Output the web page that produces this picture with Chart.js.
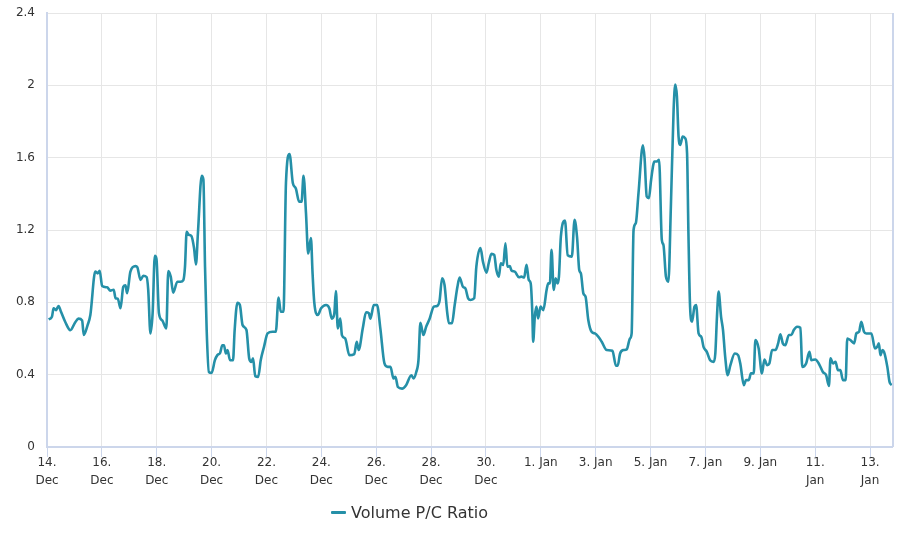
<!DOCTYPE html>
<html>
<head>
<meta charset="utf-8">
<script src="https://cdn.jsdelivr.net/npm/chart.js@4/dist/chart.umd.min.js"></script>
<style>
  html, body { margin: 0; padding: 0; background: #ffffff; }
  #wrap { position: relative; width: 900px; height: 534px; }
  #legend { position: absolute; left: 331px; top: 502px; height: 20px; display: flex; align-items: center;
            font-family: 'DejaVu Sans', sans-serif; font-size: 16px; color: #333; }
  #legend .sym { width: 15px; height: 3px; background: #2590a8; margin-right: 5px; border-radius: 1px; }
</style>
</head>
<body>
<div id="wrap">
  <canvas id="c" width="900" height="534"></canvas>
  <div id="legend"><span class="sym"></span><span>Volume P/C Ratio</span></div>
</div>
<script>
// Days since 14 Dec 00:00
const days = [0.06,0.18,0.24,0.33,0.42,0.51,0.67,0.85,1.03,1.15,1.28,1.34,1.48,1.58,1.76,1.85,1.92,2.01,2.19,2.31,2.43,2.50,2.58,2.68,2.78,2.86,2.92,3.04,3.23,3.29,3.41,3.51,3.63,3.69,3.77,3.85,3.93,3.99,4.08,4.20,4.35,4.42,4.51,4.60,4.75,4.87,4.97,5.03,5.09,5.17,5.26,5.36,5.43,5.50,5.64,5.70,5.76,5.82,5.90,6.00,6.12,6.21,6.31,6.39,6.45,6.52,6.58,6.67,6.78,6.84,6.94,7.03,7.13,7.27,7.37,7.45,7.51,7.59,7.70,7.79,7.91,8.04,8.22,8.34,8.44,8.52,8.62,8.71,8.84,8.96,9.07,9.19,9.28,9.35,9.44,9.52,9.62,9.68,9.74,9.87,9.99,10.17,10.29,10.38,10.47,10.53,10.60,10.69,10.75,10.87,11.02,11.20,11.29,11.36,11.51,11.63,11.73,11.79,11.91,12.03,12.15,12.30,12.42,12.52,12.63,12.70,12.79,12.94,13.09,13.28,13.36,13.46,13.54,13.61,13.72,13.82,13.94,14.10,14.22,14.31,14.40,14.49,14.59,14.65,14.76,14.86,14.96,15.04,15.16,15.25,15.35,15.44,15.57,15.65,15.80,15.89,16.02,16.10,16.20,16.30,16.38,16.47,16.54,16.63,16.71,16.78,16.87,16.93,17.05,17.20,17.29,17.39,17.48,17.56,17.63,17.69,17.72,17.78,17.84,17.90,17.99,18.09,18.21,18.27,18.33,18.39,18.47,18.54,18.61,18.66,18.73,18.88,18.98,19.13,19.23,19.32,19.40,19.46,19.55,19.63,19.73,19.85,19.97,20.10,20.22,20.40,20.61,20.74,20.80,20.89,21.01,21.13,21.25,21.31,21.38,21.46,21.56,21.72,21.78,21.86,21.94,22.02,22.14,22.23,22.31,22.41,22.47,22.56,22.65,22.74,22.84,22.90,22.96,23.02,23.08,23.17,23.26,23.33,23.38,23.44,23.51,23.60,23.66,23.75,23.85,23.93,24.05,24.17,24.30,24.36,24.42,24.48,24.57,24.64,24.72,24.81,24.91,25.07,25.19,25.27,25.40,25.48,25.58,25.66,25.76,25.82,25.94,26.06,26.15,26.25,26.33,26.43,26.55,26.65,26.73,26.82,26.91,27.04,27.13,27.22,27.34,27.46,27.53,27.67,27.79,27.86,28.01,28.13,28.28,28.40,28.50,28.56,28.65,28.74,28.83,28.92,29.01,29.11,29.17,29.29,29.42,29.50,29.60,29.68,29.78,29.86,29.96,30.05,30.18,30.26,30.32,30.38,30.45,30.51,30.63,30.71,30.79];

const ratio = [0.706,0.72,0.767,0.757,0.78,0.748,0.69,0.646,0.69,0.71,0.70,0.62,0.674,0.73,0.97,0.96,0.975,0.89,0.883,0.865,0.87,0.822,0.82,0.767,0.886,0.894,0.85,0.97,1.0,0.995,0.924,0.947,0.94,0.868,0.628,0.74,1.057,1.04,0.74,0.70,0.656,0.973,0.942,0.853,0.914,0.914,0.923,0.997,1.19,1.173,1.168,1.10,1.01,1.18,1.50,1.48,0.997,0.647,0.415,0.41,0.48,0.508,0.52,0.563,0.563,0.517,0.536,0.48,0.48,0.647,0.798,0.785,0.674,0.647,0.49,0.471,0.49,0.392,0.388,0.48,0.554,0.628,0.637,0.637,0.826,0.748,0.748,1.46,1.62,1.46,1.43,1.357,1.357,1.50,1.293,1.07,1.155,0.96,0.803,0.73,0.767,0.785,0.767,0.71,0.735,0.863,0.656,0.71,0.619,0.60,0.508,0.514,0.582,0.536,0.656,0.745,0.74,0.71,0.785,0.785,0.656,0.462,0.443,0.443,0.379,0.388,0.332,0.323,0.342,0.397,0.379,0.415,0.48,0.687,0.619,0.665,0.706,0.776,0.78,0.81,0.933,0.896,0.74,0.684,0.684,0.785,0.886,0.937,0.886,0.877,0.822,0.813,0.822,0.997,1.10,1.025,0.964,1.016,1.068,1.062,0.979,0.942,1.016,1.007,1.127,0.997,1.0,0.976,0.97,0.939,0.942,0.937,1.007,0.924,0.905,0.74,0.582,0.72,0.776,0.711,0.776,0.757,0.868,0.905,0.905,1.09,0.868,0.933,0.905,0.942,1.163,1.252,1.06,1.053,1.256,1.16,0.979,0.96,0.85,0.831,0.702,0.637,0.628,0.609,0.582,0.536,0.532,0.449,0.449,0.517,0.536,0.54,0.60,0.628,1.20,1.237,1.404,1.668,1.60,1.385,1.376,1.478,1.579,1.579,1.588,1.145,1.117,0.942,0.914,1.33,1.865,2.004,1.939,1.717,1.671,1.717,1.708,1.625,1.182,0.776,0.693,0.776,0.785,0.628,0.609,0.554,0.526,0.48,0.471,0.517,0.72,0.859,0.72,0.647,0.499,0.397,0.453,0.517,0.508,0.462,0.342,0.37,0.37,0.407,0.407,0.591,0.545,0.407,0.484,0.453,0.462,0.536,0.536,0.573,0.623,0.573,0.563,0.619,0.619,0.647,0.665,0.66,0.443,0.462,0.526,0.48,0.484,0.462,0.415,0.397,0.338,0.49,0.462,0.471,0.425,0.425,0.37,0.37,0.60,0.59,0.573,0.628,0.637,0.693,0.637,0.628,0.628,0.628,0.545,0.554,0.573,0.508,0.536,0.526,0.443,0.36,0.342];

// X tick labels every 2 days starting 14 Dec
const xTickDays = [0,2,4,6,8,10,12,14,16,18,20,22,24,26,28,30];
const xTickLabels = [["14.","Dec"],["16.","Dec"],["18.","Dec"],["20.","Dec"],["22.","Dec"],["24.","Dec"],["26.","Dec"],["28.","Dec"],["30.","Dec"],"1. Jan","3. Jan","5. Jan","7. Jan","9. Jan",["11.","Jan"],["13.","Jan"]];
const yTicks = [0,0.4,0.8,1.2,1.6,2,2.4];

const FONT = "'DejaVu Sans', sans-serif";
const AXIS_BLUE = '#ccd6eb';

const rightBorder = {
  id: 'rightBorder',
  afterDraw(chart) {
    const {ctx, chartArea} = chart;
    ctx.save();
    ctx.strokeStyle = AXIS_BLUE;
    ctx.lineWidth = 2;
    ctx.beginPath();
    ctx.moveTo(chartArea.right + 1, chartArea.top);
    ctx.lineTo(chartArea.right + 1, chartArea.bottom);
    ctx.stroke();
    ctx.restore();
  }
};

new Chart(document.getElementById('c'), {
  type: 'line',
  data: {
    datasets: [{
      label: 'Volume P/C Ratio',
      data: days.map((d, i) => ({x: d, y: ratio[i]})),
      borderColor: '#2590a8',
      borderWidth: 2.6,
      pointRadius: 0,
      fill: false,
      cubicInterpolationMode: 'monotone'
    }]
  },
  options: {
    responsive: false,
    animation: false,
    events: [],
    layout: { padding: { top: 13, right: 8, left: 0, bottom: 0 } },
    plugins: { legend: { display: false }, tooltip: { enabled: false } },
    scales: {
      x: {
        type: 'linear',
        min: 0,
        max: 30.8,
        afterBuildTicks(scale) { scale.ticks = xTickDays.map(v => ({value: v})); },
        afterFit(scale) { scale.height = 87; scale.paddingLeft = 0; scale.paddingRight = 0; },
        ticks: {
          autoSkip: false,
          maxRotation: 0,
          padding: -3,
          color: '#333',
          font: { family: FONT, size: 12, lineHeight: 1.5 },
          callback(value) { const i = xTickDays.indexOf(value); return i >= 0 ? xTickLabels[i] : ''; }
        },
        grid: { color: '#e6e6e6', lineWidth: 1, tickLength: 10, tickColor: AXIS_BLUE, drawOnChartArea: true },
        border: { color: AXIS_BLUE, width: 2 }
      },
      y: {
        min: 0,
        max: 2.4,
        afterBuildTicks(scale) { scale.ticks = yTicks.map(v => ({value: v})); },
        afterFit(scale) { scale.width = 47; scale.paddingTop = 0; scale.paddingBottom = 0; },
        ticks: {
          padding: 12,
          color: '#333',
          font: { family: FONT, size: 12 },
          callback(value) { return String(value); }
        },
        grid: { color: '#e6e6e6', lineWidth: 1, drawTicks: false },
        border: { color: AXIS_BLUE, width: 2 }
      }
    }
  },
  plugins: [rightBorder]
});
</script>
</body>
</html>
